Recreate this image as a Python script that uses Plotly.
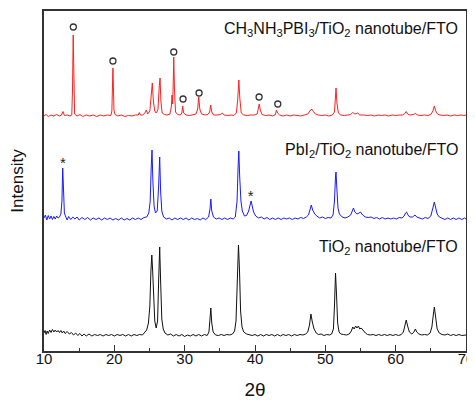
import plotly.graph_objects as go

# ---- data (2theta in degrees, intensity in arbitrary units) ----
red_x = [10.0, 10.3, 10.6, 11.0, 11.4, 11.8, 12.2, 12.5, 12.7, 12.9, 13.3, 13.7, 13.95, 14.05, 14.15, 14.25, 14.35, 14.7, 15.1, 15.5, 16.0, 16.5, 17.0, 17.5, 18.0, 18.5, 19.0, 19.5, 19.65, 19.8, 19.95, 20.1, 20.5, 21.0, 21.5, 22.0, 22.5, 23.0, 23.4, 23.55, 23.7, 24.0, 24.3, 24.55, 24.75, 25.05, 25.25, 25.4, 25.55, 25.75, 25.95, 26.2, 26.4, 26.5, 26.62, 26.8, 27.1, 27.5, 27.9, 28.1, 28.2, 28.3, 28.38, 28.45, 28.55, 28.7, 29.0, 29.4, 29.6, 29.72, 29.85, 30.2, 30.7, 31.2, 31.6, 31.85, 32.0, 32.15, 32.4, 32.9, 33.3, 33.55, 33.7, 33.85, 34.1, 34.6, 35.1, 35.35, 35.6, 36.1, 36.6, 37.0, 37.35, 37.55, 37.7, 37.85, 38.05, 38.4, 38.9, 39.4, 39.9, 40.3, 40.45, 40.6, 40.75, 41.0, 41.5, 42.0, 42.5, 42.9, 43.05, 43.2, 43.5, 44.0, 44.5, 45.0, 45.5, 46.0, 46.5, 47.0, 47.5, 47.8, 48.05, 48.3, 48.6, 49.0, 49.5, 50.0, 50.5, 51.0, 51.3, 51.42, 51.52, 51.65, 51.85, 52.2, 52.7, 53.2, 53.6, 53.9, 54.2, 54.6, 54.9, 55.4, 56.0, 56.5, 57.0, 57.5, 58.0, 58.5, 59.0, 59.5, 60.0, 60.5, 61.0, 61.3, 61.5, 61.7, 62.0, 62.5, 62.8, 63.1, 63.6, 64.1, 64.6, 65.0, 65.3, 65.5, 65.7, 65.95, 66.3, 66.8, 67.3, 67.8, 68.3, 68.8, 69.3, 69.7, 70.0]
red_y = [235, 236.5, 234.5, 236, 235, 236.5, 235, 236, 239.5, 235.5, 236, 235, 236, 260, 316, 262, 237, 235, 236.5, 234.5, 236, 235, 236, 234.5, 236, 235, 236, 235.5, 240, 283, 241, 236.5, 235, 236, 234.5, 235.5, 235, 236, 236, 238.5, 236, 236, 237.5, 241, 237, 240, 258, 268, 250, 240, 238, 241, 266, 273, 250, 238, 236.5, 236, 237, 244, 256, 247, 270, 294, 262, 239, 236.5, 236, 238, 245, 238, 236, 235.5, 236, 237, 242, 254, 242, 237, 236, 236.5, 239, 246, 239, 236, 236, 236.5, 238, 236, 235.5, 236, 235.5, 238, 252, 271, 252, 238, 236, 235.5, 236, 236, 237, 241, 247, 241, 236.5, 235.5, 236, 235, 236.5, 241, 238, 236, 235, 236, 235, 236, 235.5, 235, 236, 237, 240, 242, 239.5, 237, 236, 235.5, 236, 235, 236, 239, 252, 263, 248, 238, 236, 235.5, 236, 236.5, 238.5, 237, 238, 236, 236, 235.5, 236, 235, 236, 235.5, 236, 235, 236, 235.5, 236, 236, 237.5, 239.5, 237, 236, 236.5, 237.5, 236, 235.5, 236, 235.5, 236.5, 240, 245, 240, 237, 236, 235.5, 236, 235, 236, 235.5, 236, 235.5, 236]

blue_x = [10.0, 10.2, 10.4, 10.6, 10.8, 11.0, 11.2, 11.4, 11.6, 11.8, 12.0, 12.2, 12.4, 12.55, 12.66, 12.78, 12.9, 13.1, 13.3, 13.5, 13.8, 14.1, 14.4, 14.7, 15.0, 15.4, 15.8, 16.2, 16.6, 17.0, 17.4, 17.8, 18.2, 18.6, 19.0, 19.4, 19.8, 20.2, 20.6, 21.0, 21.4, 21.8, 22.2, 22.6, 23.0, 23.4, 23.8, 24.2, 24.6, 24.9, 25.1, 25.25, 25.36, 25.48, 25.65, 25.85, 26.1, 26.3, 26.45, 26.58, 26.75, 27.0, 27.4, 27.8, 28.2, 28.6, 29.0, 29.4, 29.8, 30.2, 30.6, 31.0, 31.4, 31.8, 32.2, 32.6, 33.0, 33.4, 33.6, 33.72, 33.85, 34.1, 34.5, 34.9, 35.3, 35.7, 36.1, 36.5, 36.9, 37.2, 37.45, 37.6, 37.7, 37.82, 38.0, 38.2, 38.5, 38.8, 39.1, 39.3, 39.45, 39.6, 39.8, 40.1, 40.5, 40.9, 41.3, 41.7, 42.1, 42.5, 42.9, 43.3, 43.7, 44.1, 44.5, 44.9, 45.3, 45.7, 46.1, 46.5, 46.9, 47.3, 47.6, 47.85, 48.0, 48.2, 48.5, 48.8, 49.2, 49.6, 50.0, 50.4, 50.8, 51.1, 51.3, 51.45, 51.52, 51.62, 51.8, 52.0, 52.4, 52.8, 53.2, 53.6, 53.85, 54.0, 54.2, 54.5, 54.8, 55.0, 55.3, 55.7, 56.1, 56.5, 56.9, 57.3, 57.7, 58.1, 58.5, 58.9, 59.3, 59.7, 60.1, 60.5, 60.9, 61.2, 61.4, 61.55, 61.75, 62.0, 62.4, 62.75, 63.0, 63.4, 63.8, 64.2, 64.6, 65.0, 65.25, 65.5, 65.7, 65.9, 66.2, 66.6, 67.0, 67.4, 67.8, 68.2, 68.6, 69.0, 69.4, 69.8, 70.0]
blue_y = [133, 136, 131, 135.5, 132, 135, 131.5, 134.5, 132, 135, 133, 134, 137, 150, 183, 150, 138, 134, 131, 134.5, 131.5, 134, 132, 134, 131, 133.5, 131.5, 133.5, 131, 133, 131.5, 133, 131, 133, 131.5, 133, 131, 132.5, 131, 133, 131, 132.5, 131, 133, 131.5, 133, 131.5, 133.5, 134, 138, 150, 185, 201, 170, 145, 138, 140, 165, 194, 160, 140, 134, 132, 133, 131, 133, 131.5, 133, 131.5, 133, 131, 133, 131.5, 132.5, 131, 133, 131.5, 134, 142, 152, 140, 134, 132, 133, 131.5, 133, 131.5, 133, 132, 134, 150, 185, 200, 175, 150, 140, 135, 135.5, 140, 146, 150, 145, 139, 135, 133, 134, 132, 133.5, 131.5, 133, 131.5, 133, 131.5, 133, 132, 133, 131.5, 133, 132, 133.5, 132.5, 134, 136, 142, 146, 141, 137, 135, 133, 134, 132.5, 133.5, 133, 136, 150, 175, 179, 165, 143, 137, 134, 133, 134, 136, 141, 143, 139, 137, 138, 139, 136, 134, 133.5, 134, 132.5, 133.5, 132, 133.5, 132, 133, 132, 133, 132, 133.5, 133, 135, 138, 139, 136, 134, 134, 136, 134, 133, 132, 133.5, 132.5, 135, 141, 149, 143, 137, 134, 133, 131.5, 133, 131.5, 133, 131.5, 133, 131.5, 133, 132]

black_x = [10.0, 10.15, 10.3, 10.45, 10.6, 10.8, 11.0, 11.2, 11.4, 11.6, 11.8, 12.0, 12.2, 12.4, 12.6, 12.8, 13.0, 13.3, 13.6, 13.9, 14.2, 14.5, 14.8, 15.1, 15.4, 15.7, 16.0, 16.4, 16.8, 17.2, 17.6, 18.0, 18.4, 18.8, 19.2, 19.6, 20.0, 20.4, 20.8, 21.2, 21.6, 22.0, 22.4, 22.8, 23.2, 23.6, 24.0, 24.3, 24.6, 24.85, 25.05, 25.2, 25.33, 25.45, 25.6, 25.75, 25.95, 26.15, 26.3, 26.45, 26.58, 26.75, 26.95, 27.2, 27.6, 28.0, 28.4, 28.8, 29.2, 29.6, 30.0, 30.4, 30.8, 31.2, 31.6, 32.0, 32.4, 32.8, 33.2, 33.45, 33.6, 33.72, 33.85, 34.05, 34.4, 34.8, 35.2, 35.6, 36.0, 36.4, 36.8, 37.1, 37.3, 37.5, 37.65, 37.8, 37.95, 38.15, 38.4, 38.8, 39.2, 39.6, 40.0, 40.4, 40.8, 41.2, 41.6, 42.0, 42.4, 42.8, 43.2, 43.6, 44.0, 44.4, 44.8, 45.2, 45.6, 46.0, 46.4, 46.8, 47.2, 47.5, 47.75, 47.95, 48.15, 48.4, 48.7, 49.0, 49.4, 49.8, 50.2, 50.6, 50.9, 51.15, 51.3, 51.45, 51.6, 51.75, 51.95, 52.2, 52.6, 53.0, 53.4, 53.7, 53.9, 54.1, 54.3, 54.5, 54.7, 54.9, 55.1, 55.4, 55.7, 56.0, 56.4, 56.8, 57.2, 57.6, 58.0, 58.4, 58.8, 59.2, 59.6, 60.0, 60.4, 60.8, 61.1, 61.3, 61.5, 61.7, 61.95, 62.3, 62.6, 62.8, 63.0, 63.3, 63.7, 64.1, 64.5, 64.9, 65.15, 65.35, 65.5, 65.7, 65.9, 66.2, 66.6, 67.0, 67.4, 67.8, 68.2, 68.6, 69.0, 69.4, 69.8, 70.0]
black_y = [18, 20.5, 16.5, 20, 17.5, 21, 18.5, 21.5, 19, 21, 19, 20.5, 18.5, 20.5, 18, 20, 17.5, 19.5, 17, 18.5, 16, 18, 15.5, 17.5, 15, 17, 15, 17, 15, 16.5, 15.5, 16.5, 15, 16.5, 15.5, 16.5, 15, 16.5, 15.5, 16.5, 15, 16.5, 15, 16.5, 15.5, 16.5, 16, 18, 21, 28, 45, 80, 96, 80, 45, 30, 23, 30, 70, 104, 70, 32, 22, 18, 16, 17, 15, 16.5, 15, 16.5, 14.5, 16, 15, 16.5, 15, 16.5, 15, 16.5, 15.5, 19, 32, 43, 28, 19, 16, 15.5, 16.5, 15.5, 16.5, 16, 17, 20, 30, 75, 106, 80, 40, 24, 19, 17, 16.5, 15.5, 16.5, 15, 16.5, 15, 16.5, 15.5, 16.5, 15, 16.5, 15, 16.5, 15.5, 16.5, 15, 16.5, 15.5, 16.5, 16, 17, 19, 26, 37, 29, 22, 18, 16.5, 17, 15.5, 16.5, 16, 17, 22, 45, 78, 55, 28, 19, 17, 16.5, 16, 17, 20, 24, 22, 25, 23, 25, 22, 23, 20, 18, 16.5, 16, 16.5, 15.5, 16.5, 15.5, 16.5, 15.5, 16.5, 15.5, 16.5, 15.5, 16.5, 19, 25, 31, 25, 19, 17, 19, 22, 19, 17, 16, 16.5, 16, 18, 24, 36, 44, 33, 22, 18, 16.5, 16, 17, 15.5, 16.5, 15.5, 16.5, 15.5, 16, 16]

# peak markers: open circles (perovskite) and stars (PbI2)
circle_x = [14.17, 19.8, 28.45, 29.77, 32.05, 40.58, 43.24]
circle_y = [324, 290, 299, 252, 258, 254, 247]
star_x = [12.7, 39.4]
star_y = [187, 154]

# sample labels
label_text = ["CH<sub>3</sub>NH<sub>3</sub>PBI<sub>3</sub>/TiO<sub>2</sub> nanotube/FTO",
              "PbI<sub>2</sub>/TiO<sub>2</sub> nanotube/FTO",
              "TiO<sub>2</sub> nanotube/FTO"]
label_y = [322, 201, 104]

x_ticks = [10, 20, 30, 40, 50, 60, 70]

FONT = "Liberation Sans, Arial, sans-serif"

fig = go.Figure()
fig.add_trace(go.Scatter(x=black_x, y=black_y, mode="lines", line=dict(color="#111111", width=1), showlegend=False))
fig.add_trace(go.Scatter(x=blue_x, y=blue_y, mode="lines", line=dict(color="#1a1aff", width=1), showlegend=False))
fig.add_trace(go.Scatter(x=red_x, y=red_y, mode="lines", line=dict(color="#ff2020", width=1), showlegend=False))
fig.add_trace(go.Scatter(x=circle_x, y=circle_y, mode="markers",
                         marker=dict(symbol="circle-open", size=6, color="#333333", line=dict(width=1.3)),
                         showlegend=False))
fig.add_trace(go.Scatter(x=star_x, y=star_y, mode="text", text=["*"] * len(star_x),
                         textfont=dict(family=FONT, size=15, color="#222222"), showlegend=False))

for t, yv in zip(label_text, label_y):
    fig.add_annotation(x=69.15, y=yv, xref="x", yref="y", text=t, showarrow=False,
                       xanchor="right", yanchor="middle",
                       font=dict(family=FONT, size=16, color="#111111"))

# the page body has an 8px margin, so the figure is sized to fit the 475x400 window
fig.update_layout(
    width=467, height=392,
    margin=dict(l=36, r=9, t=3, b=49, autoexpand=False),
    paper_bgcolor="white", plot_bgcolor="white",
    font=dict(family=FONT, size=15, color="#111111"),
)
fig.update_xaxes(
    range=[10, 70], tickvals=x_ticks, ticks="inside", ticklen=6, tickwidth=1.2, tickcolor="#333333",
    minor=dict(dtick=5, tick0=10, ticks="inside", ticklen=3, tickwidth=1.2, tickcolor="#333333"),
    showline=True, linecolor="#333333", linewidth=1.5, mirror=True,
    showgrid=False, zeroline=False, automargin=False, ticklabeloverflow="allow",
    ticklabelstandoff=-7,
    tickfont=dict(family=FONT, size=15, color="#111111"),
    title=dict(text="2θ", font=dict(family=FONT, size=19, color="#111111"), standoff=27),
)
fig.update_yaxes(
    range=[0, 340], showticklabels=False, ticks="",
    showline=True, linecolor="#333333", linewidth=1.5, mirror=True,
    showgrid=False, zeroline=False, automargin=False,
    title=dict(text="Intensity", font=dict(family=FONT, size=17, color="#111111"), standoff=16),
)

fig.write_html("out.html")
